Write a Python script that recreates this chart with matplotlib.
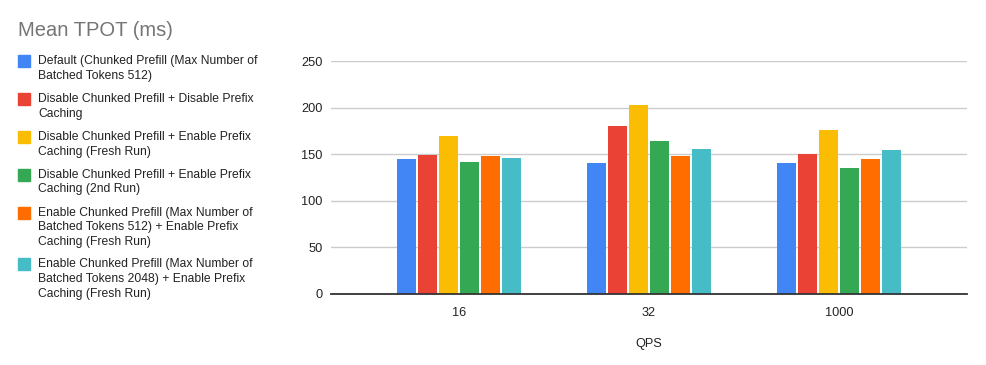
import textwrap
import matplotlib
matplotlib.use("Agg")
import matplotlib.pyplot as plt
import matplotlib.patches as mpatches
import numpy as np

plt.rcParams['font.family'] = ['Liberation Sans', 'DejaVu Sans']

qps = ["16", "32", "1000"]
series = [
    "Default (Chunked Prefill (Max Number of Batched Tokens 512)",
    "Disable Chunked Prefill + Disable Prefix Caching",
    "Disable Chunked Prefill + Enable Prefix Caching (Fresh Run)",
    "Disable Chunked Prefill + Enable Prefix Caching (2nd Run)",
    "Enable Chunked Prefill (Max Number of Batched Tokens 512) + Enable Prefix Caching (Fresh Run)",
    "Enable Chunked Prefill (Max Number of Batched Tokens 2048) + Enable Prefix Caching (Fresh Run)",
]
colors = ["#4285F4", "#EA4335", "#FBBC04", "#34A853", "#FF6D01", "#46BDC6"]

default_512 = [145, 141, 141]
no_chunk_no_cache = [149, 180, 150]
no_chunk_cache_fresh = [170, 203, 176]
no_chunk_cache_2nd = [142, 164, 135]
chunk_512_cache = [148, 148, 145]
chunk_2048_cache = [146, 156, 154]
values = [default_512, no_chunk_no_cache, no_chunk_cache_fresh,
          no_chunk_cache_2nd, chunk_512_cache, chunk_2048_cache]

fig = plt.figure(figsize=(9.86, 3.65), dpi=100)
ax = fig.add_axes([331/986, 71/365, 636/986, 233/365])

x = np.arange(len(qps))
pitch = 0.1105
width = 0.099
for i, (vals, c) in enumerate(zip(values, colors)):
    ax.bar(x + (i - 2.5) * pitch, vals, width, color=c, zorder=3)

ax.set_xlim(-0.674, 2.674)
ax.set_ylim(0, 250)
ax.set_yticks([0, 50, 100, 150, 200, 250])
ax.set_xticks(x)
ax.set_xticklabels(qps)
ax.grid(axis='y', color='#cccccc', linewidth=1, zorder=0)
for s in ['top', 'right', 'left']:
    ax.spines[s].set_visible(False)
ax.spines['bottom'].set_color('#333333')
ax.spines['bottom'].set_linewidth(1.3)
ax.spines['bottom'].set_zorder(4)
ax.tick_params(axis='both', length=0, labelsize=9.2, labelcolor='#222222')
ax.tick_params(axis='y', pad=6)
ax.tick_params(axis='x', pad=9)
ax.set_xlabel("QPS", fontsize=9.2, color='#222222', labelpad=14)

fig.text(18/986, 1 - 30/365, "Mean TPOT (ms)", fontsize=14.5, color='#757575', va='center')

# legend on the left
y = 61
line_h = 13.7
for name, c in zip(series, colors):
    lines = textwrap.fill(name, 40)
    n = lines.count("\n") + 1
    fig.patches.append(mpatches.Rectangle((18/986, 1 - (y + 6)/365), 12/986, 12/365,
                                          color=c, transform=fig.transFigure))
    fig.text(38/986, 1 - (y - 6)/365, lines, fontsize=8.7, color='#222222',
             va='top', linespacing=1.3)
    y += n * line_h + 10.5

fig.savefig("out.png", dpi=100)
